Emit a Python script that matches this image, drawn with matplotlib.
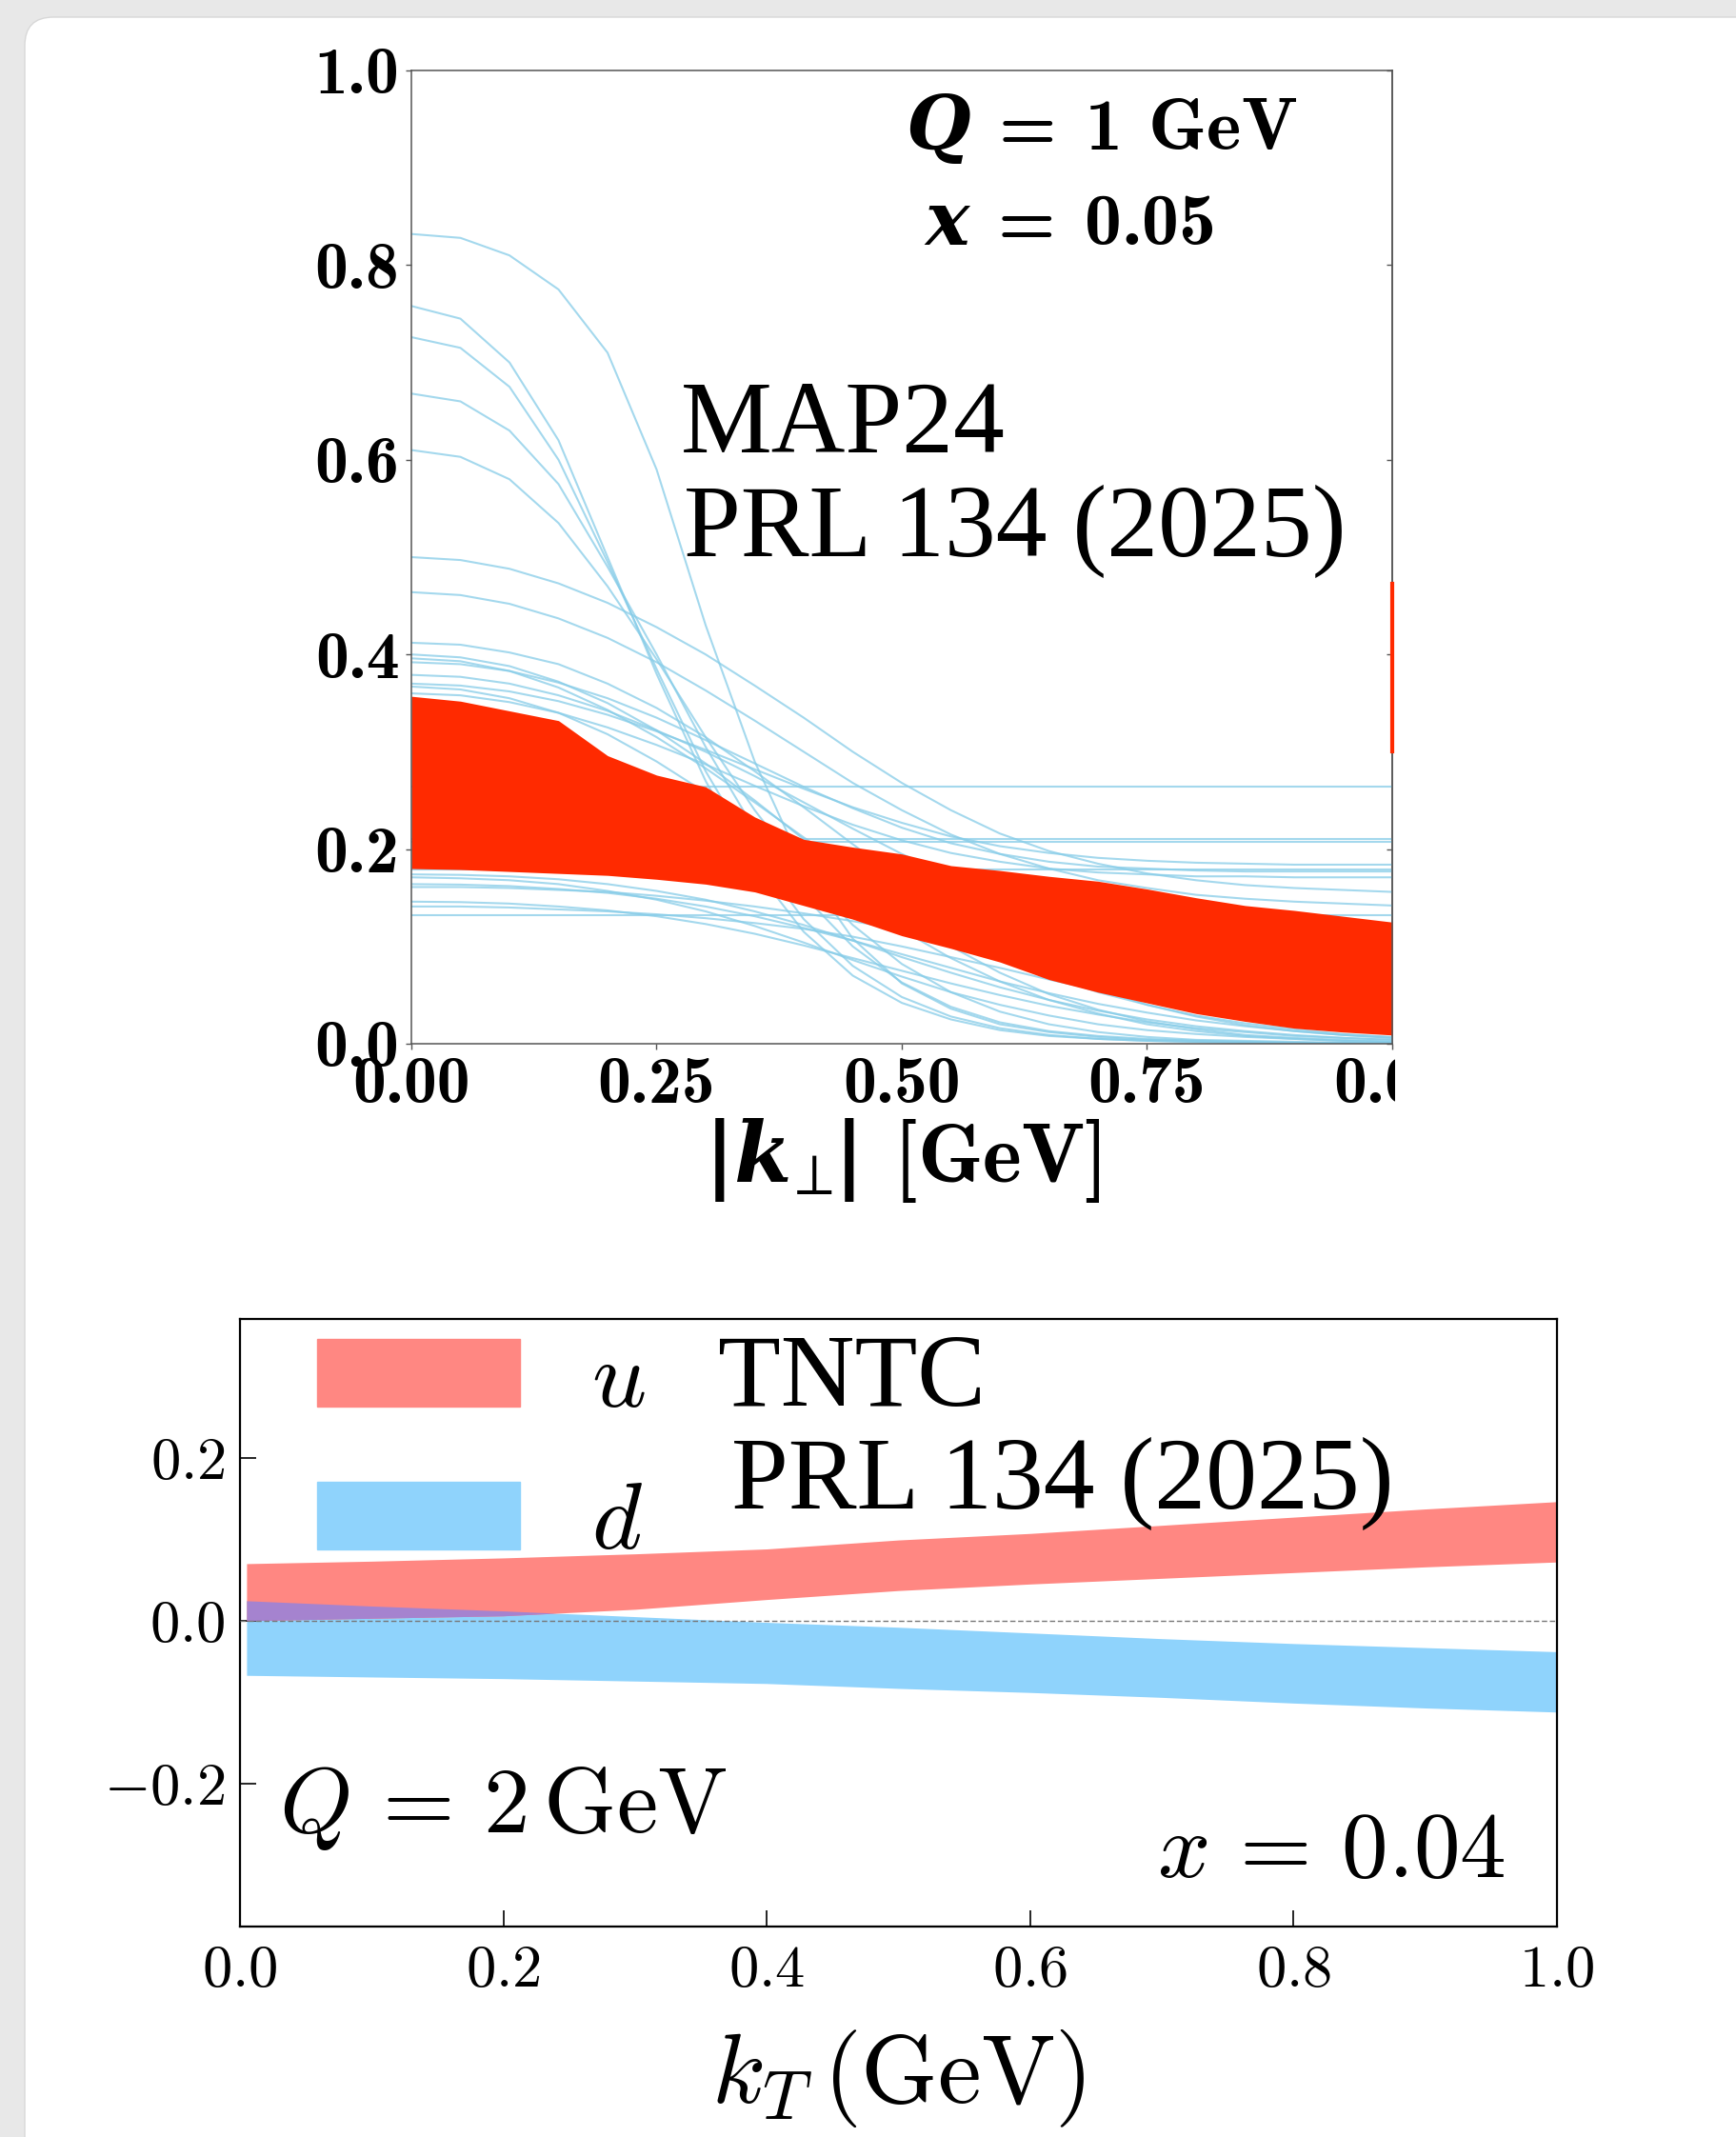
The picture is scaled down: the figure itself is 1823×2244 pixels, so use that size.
import numpy as np
import matplotlib
matplotlib.use('agg')
import matplotlib.pyplot as plt
from matplotlib.patches import FancyBboxPatch, Patch
from matplotlib.transforms import Bbox, TransformedBbox, IdentityTransform

plt.rcParams['mathtext.fontset'] = 'cm'
# "custom" math set used for the bold labels of the upper panel
plt.rcParams['mathtext.rm'] = 'cmb10'
plt.rcParams['mathtext.it'] = 'DejaVu Serif:bold:italic'
plt.rcParams['mathtext.bf'] = 'DejaVu Serif:bold'
plt.rcParams['font.family'] = ['Liberation Serif', 'DejaVu Serif']

# ---------------- top panel: MAP24 ----------------
kperp = [0.0, 0.05, 0.1, 0.15, 0.2, 0.25, 0.3, 0.35, 0.4, 0.45, 0.5,
         0.55, 0.6, 0.65, 0.7, 0.75, 0.8, 0.85, 0.9, 0.95, 1.0]

# old replicas (light blue curves), read at kperp
map_replicas = [
    [0.832, 0.828, 0.81, 0.775, 0.71, 0.59, 0.43, 0.29, 0.18, 0.108, 0.062,
     0.036, 0.02, 0.012, 0.007, 0.004, 0.003, 0.002, 0.001, 0.001, 0.0],
    [0.758, 0.745, 0.70, 0.62, 0.50, 0.38, 0.27, 0.18, 0.115, 0.07, 0.042,
     0.025, 0.014, 0.008, 0.005, 0.003, 0.002, 0.001, 0.001, 0.0, 0.0],
    [0.726, 0.715, 0.675, 0.60, 0.495, 0.385, 0.28, 0.195, 0.128, 0.08, 0.048,
     0.028, 0.016, 0.009, 0.005, 0.003, 0.002, 0.001, 0.001, 0.0, 0.0],
    [0.668, 0.66, 0.63, 0.575, 0.49, 0.40, 0.305, 0.22, 0.152, 0.10, 0.063,
     0.038, 0.022, 0.013, 0.008, 0.005, 0.003, 0.002, 0.001, 0.001, 0.0],
    [0.61, 0.603, 0.58, 0.535, 0.47, 0.395, 0.315, 0.24, 0.175, 0.122, 0.082,
     0.053, 0.033, 0.02, 0.012, 0.007, 0.004, 0.003, 0.002, 0.001, 0.001],
    [0.50, 0.497, 0.488, 0.473, 0.453, 0.428, 0.40, 0.368, 0.335, 0.30, 0.268,
     0.24, 0.216, 0.198, 0.185, 0.175, 0.168, 0.163, 0.16, 0.158, 0.156],
    [0.464, 0.461, 0.452, 0.437, 0.417, 0.392, 0.363, 0.332, 0.30, 0.268, 0.24,
     0.215, 0.195, 0.18, 0.168, 0.16, 0.153, 0.149, 0.146, 0.144, 0.142],
    [0.412, 0.41, 0.402, 0.39, 0.37, 0.345, 0.315, 0.28, 0.243, 0.205, 0.168,
     0.133, 0.103, 0.077, 0.056, 0.04, 0.028, 0.019, 0.013, 0.009, 0.006],
    [0.40, 0.397, 0.388, 0.372, 0.35, 0.322, 0.288, 0.25, 0.21, 0.17, 0.133,
     0.10, 0.073, 0.051, 0.035, 0.023, 0.015, 0.009, 0.006, 0.004, 0.002],
    [0.396, 0.393, 0.383, 0.366, 0.343, 0.315, 0.283, 0.248, 0.212, 0.177, 0.145,
     0.116, 0.091, 0.07, 0.053, 0.04, 0.029, 0.021, 0.015, 0.01, 0.007],
    [0.379, 0.377, 0.37, 0.358, 0.342, 0.322, 0.30, 0.275, 0.248, 0.221, 0.195,
     0.172, 0.152, 0.135, 0.121, 0.11, 0.101, 0.095, 0.09, 0.087, 0.085],
    [0.367, 0.364, 0.355, 0.34, 0.318, 0.29, 0.258, 0.222, 0.185, 0.15, 0.117,
     0.088, 0.064, 0.045, 0.031, 0.02, 0.013, 0.008, 0.005, 0.003, 0.002],
    [0.36, 0.358, 0.351, 0.34, 0.325, 0.307, 0.287, 0.265, 0.244, 0.225, 0.209,
     0.196, 0.187, 0.18, 0.176, 0.174, 0.172, 0.172, 0.171, 0.171, 0.171],
    [0.37, 0.368, 0.362, 0.352, 0.338, 0.321, 0.302, 0.282, 0.262, 0.243, 0.227,
     0.213, 0.203, 0.196, 0.191, 0.188, 0.186, 0.185, 0.184, 0.184, 0.184],
    [0.392, 0.39, 0.383, 0.371, 0.355, 0.335, 0.312, 0.288, 0.264, 0.242, 0.222,
     0.206, 0.195, 0.187, 0.182, 0.18, 0.178, 0.177, 0.177, 0.177, 0.177],
    [0.174, 0.1735, 0.172, 0.169, 0.164, 0.157, 0.148, 0.136, 0.122, 0.106, 0.089,
     0.073, 0.058, 0.045, 0.034, 0.025, 0.018, 0.013, 0.009, 0.006, 0.004],
    [0.171, 0.17, 0.168, 0.164, 0.157, 0.148, 0.136, 0.121, 0.104, 0.086, 0.069,
     0.053, 0.04, 0.029, 0.02, 0.014, 0.01, 0.007, 0.005, 0.003, 0.002],
    [0.164, 0.1635, 0.162, 0.159, 0.155, 0.149, 0.141, 0.131, 0.119, 0.106, 0.092,
     0.078, 0.064, 0.052, 0.041, 0.032, 0.024, 0.018, 0.013, 0.009, 0.006],
    [0.161, 0.161, 0.16, 0.158, 0.156, 0.152, 0.147, 0.141, 0.134, 0.126, 0.117,
     0.107, 0.096, 0.085, 0.074, 0.064, 0.054, 0.045, 0.037, 0.029, 0.022],
    [0.146, 0.1455, 0.144, 0.141, 0.137, 0.131, 0.123, 0.113, 0.101, 0.088, 0.075,
     0.062, 0.05, 0.039, 0.03, 0.022, 0.016, 0.012, 0.008, 0.006, 0.004],
    [0.141, 0.141, 0.14, 0.138, 0.136, 0.133, 0.129, 0.124, 0.118, 0.11, 0.10,
     0.089, 0.078, 0.066, 0.055, 0.045, 0.036, 0.029, 0.022, 0.017, 0.013],
]
# replicas that stay flat over the whole range
map_flat = [0.264, 0.21, 0.207, 0.179, 0.132]

# MAP24 band (red)
band_hi = [0.357, 0.352, 0.342, 0.332, 0.296, 0.276, 0.264, 0.233, 0.210, 0.202, 0.195,
           0.183, 0.178, 0.172, 0.167, 0.159, 0.150, 0.142, 0.137, 0.131, 0.125]
band_lo = [0.180, 0.179, 0.177, 0.175, 0.173, 0.169, 0.164, 0.156, 0.142, 0.128, 0.111,
           0.098, 0.084, 0.066, 0.053, 0.042, 0.031, 0.023, 0.016, 0.012, 0.009]
edge_bar = [0.30, 0.473]   # piece of the neighbouring panel at the right edge

top_xticks = [0.0, 0.25, 0.5, 0.75, 1.0]
top_xlabels = ['0.00', '0.25', '0.50', '0.75', '0.00']
top_yticks = [0.0, 0.2, 0.4, 0.6, 0.8, 1.0]
top_ylabels = ['0.0', '0.2', '0.4', '0.6', '0.8', '1.0']

# ---------------- bottom panel: TNTC ----------------
kT = [0.005, 0.1, 0.2, 0.3, 0.4, 0.5, 0.6, 0.7, 0.8, 0.9, 1.0]
u_hi = [0.070, 0.073, 0.077, 0.082, 0.088, 0.099, 0.107, 0.117, 0.127, 0.137, 0.146]
u_lo = [0.000, 0.003, 0.006, 0.014, 0.026, 0.037, 0.045, 0.052, 0.059, 0.066, 0.072]
d_hi = [0.0245, 0.018, 0.012, 0.005, -0.002, -0.008, -0.015, -0.022, -0.028, -0.033, -0.038]
d_lo = [-0.067, -0.069, -0.071, -0.074, -0.077, -0.083, -0.088, -0.094, -0.101, -0.107, -0.112]

bot_xticks = [0.0, 0.2, 0.4, 0.6, 0.8, 1.0]
bot_xlabels = ['$0.0$', '$0.2$', '$0.4$', '$0.6$', '$0.8$', '$1.0$']
bot_yticks = [-0.2, 0.0, 0.2]
bot_ylabels = ['$-0.2$', '$0.0$', '$0.2$']

W, H = 1824, 2244
fig = plt.figure(figsize=(W / 100, H / 100), dpi=100, facecolor='#e8e8e8')

# white card behind both panels
card = FancyBboxPatch((26, -60), 1900, H - 18 + 60,
                      boxstyle='round,pad=0,rounding_size=30',
                      transform=IdentityTransform(), fc='white', ec='#d8d8d8',
                      lw=1.0, zorder=-10)
fig.add_artist(card)

# ---- top axes ----
ax1 = fig.add_axes([432 / W, 1 - 1096 / H, 1030 / W, 1022 / H])
ax1.set_facecolor('none')
for rep in map_replicas:
    ax1.plot(kperp, rep, color='#86cce8', lw=1.5, alpha=0.75, zorder=1)
for v in map_flat:
    ax1.axhline(v, color='#86cce8', lw=1.5, alpha=0.75, zorder=1)
ax1.fill_between(kperp, band_lo, band_hi, color='#ff2a00', lw=0, zorder=2)
ax1.plot([1.0, 1.0], edge_bar, color='#ff2a00', lw=3, clip_on=False, zorder=5)

ax1.set_xlim(0, 1)
ax1.set_ylim(0, 1)
ax1.set_xticks(top_xticks)
ax1.set_xticklabels(top_xlabels, fontfamily='cmb10')
ax1.set_yticks(top_yticks)
ax1.set_yticklabels(top_ylabels, fontfamily='cmb10')
ax1.tick_params(labelsize=50, length=4, width=1, color='#555555', pad=5)
for sp in ax1.spines.values():
    sp.set_color('#555555')
    sp.set_linewidth(1.1)

# small inward ticks on the right border
ax1r = ax1.secondary_yaxis('right')
ax1r.set_yticks(top_yticks)
ax1r.tick_params(direction='in', length=4, width=1, color='#555555', labelright=False)
ax1r.spines['right'].set_color('#555555')
ax1r.spines['right'].set_linewidth(1.1)

# last tick label is cut by the right border of the panel
clip = TransformedBbox(Bbox([[-0.5, -0.5], [1.003, 0.0]]), ax1.transAxes)
last = ax1.xaxis.get_major_ticks()[-1].label1
last.set_clip_box(clip)
last.set_clip_on(True)

xl = ax1.set_xlabel(r'$\mathbf{|}k_{\!\perp}\!\mathbf{|}\ [\mathrm{GeV}]$', fontsize=63)
xl.set_math_fontfamily('custom')
ax1.xaxis.set_label_coords(0.5, -0.074)

ax1.text(0.703, 0.919, r'$Q\,=\,1\ \mathrm{GeV}$', fontsize=56, math_fontfamily='custom',
         ha='center', va='baseline', transform=ax1.transAxes)
ax1.text(0.670, 0.821, r'$x\,=\,0.05$', fontsize=56, math_fontfamily='custom',
         ha='center', va='baseline', transform=ax1.transAxes)
ax1.text(0.275, 0.608, 'MAP24', fontsize=77.5, family='Liberation Serif',
         ha='left', va='baseline', transform=ax1.transAxes)
ax1.text(0.278, 0.501, 'PRL 134 (2025)', fontsize=77.5, family='Liberation Serif',
         ha='left', va='baseline', transform=ax1.transAxes)

# ---- bottom axes ----
ax2 = fig.add_axes([252 / W, 1 - 2023 / H, 1383 / W, 638 / H])
ax2.set_facecolor('none')
ax2.fill_between(kT, d_lo, d_hi, color='#8fd3fc', lw=0, zorder=1)
ax2.fill_between(kT, u_lo, u_hi, color='#ff8782', lw=0, zorder=2)
ov_lo = np.maximum(np.array(u_lo), np.array(d_lo))
ov_hi = np.minimum(np.array(u_hi), np.array(d_hi))
ax2.fill_between(kT, ov_lo, ov_hi, where=ov_hi > ov_lo, interpolate=True,
                 color='#a583cf', lw=0, zorder=3)
ax2.axhline(0.0, color='#777777', lw=1.0, ls=(0, (4, 2)), zorder=4)

ax2.set_xlim(0, 1)
ax2.set_ylim(-0.375, 0.37)
ax2.set_xticks(bot_xticks)
ax2.set_xticklabels(bot_xlabels)
ax2.set_yticks(bot_yticks)
ax2.set_yticklabels(bot_ylabels)
ax2.tick_params(direction='in', length=12, width=1.2, labelsize=45)
ax2.tick_params(axis='x', pad=14)
ax2.tick_params(axis='y', pad=11)
for sp in ax2.spines.values():
    sp.set_color('black')
    sp.set_linewidth(1.6)

handles = [Patch(color='#ff8782', label='$u$'), Patch(color='#8fd3fc', label='$d$')]
ax2.legend(handles=handles, loc='upper left', bbox_to_anchor=(0.0586, 0.967),
           frameon=False, fontsize=72, handlelength=2.13, handleheight=0.72,
           handletextpad=0.75, labelspacing=0.58, borderpad=0, borderaxespad=0)

ax2.text(0.363, 0.857, 'TNTC', fontsize=77.5, family='Liberation Serif',
         ha='left', va='baseline', transform=ax2.transAxes)
ax2.text(0.373, 0.688, 'PRL 134 (2025)', fontsize=77.5, family='Liberation Serif',
         ha='left', va='baseline', transform=ax2.transAxes)
ax2.text(0.0296, 0.155, r'$Q\,=\,2\,\mathrm{GeV}$', fontsize=70,
         ha='left', va='baseline', transform=ax2.transAxes)
ax2.text(0.961, 0.0815, r'$x\,=\,0.04$', fontsize=70,
         ha='right', va='baseline', transform=ax2.transAxes)

ax2.set_xlabel(r'$k_T\,(\mathrm{GeV})$', fontsize=74)
ax2.xaxis.set_label_coords(0.5, -0.166)

fig.savefig('out.png', dpi=100, facecolor=fig.get_facecolor())
plt.close(fig)
